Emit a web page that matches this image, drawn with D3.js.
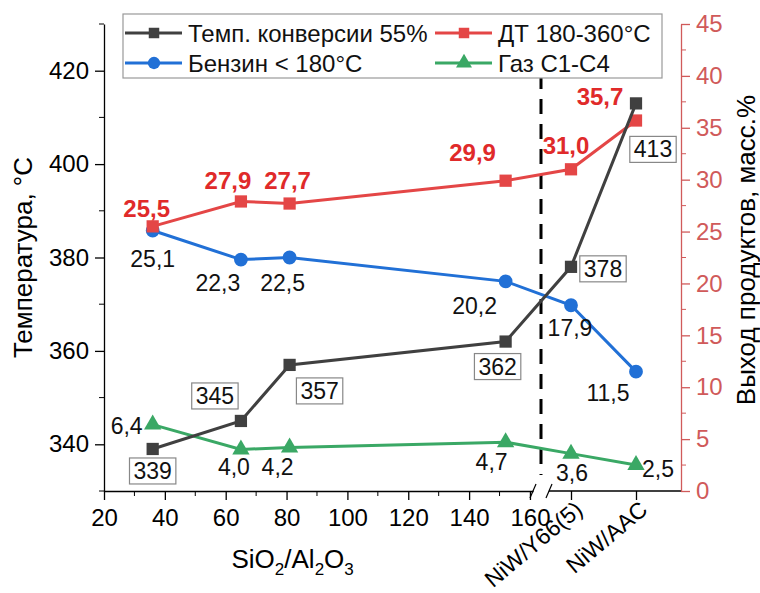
<!DOCTYPE html>
<html>
<head>
<meta charset="utf-8">
<script src="https://cdn.jsdelivr.net/npm/d3@7/dist/d3.min.js"></script>
<style>
  body { margin: 0; background: #fff; }
  svg { font-family: "Liberation Sans", Arial, sans-serif; }
</style>
</head>
<body>
<div id="chart"></div>
<script>
// numeric part of x (SiO2/Al2O3) then two catalysts after the break
const ratios = [36, 65, 81, 152];
const catalysts = ["NiW/Y66(5)", "NiW/AAC"];

const tempConv = [339, 345, 357, 362, 378, 413];   // left axis, °C
const gasoline = [25.1, 22.3, 22.5, 20.2, 17.9, 11.5]; // right axis
const diesel = [25.5, 27.9, 27.7, 29.9, 31.0, 35.7];
const gas = [6.4, 4.0, 4.2, 4.7, 3.6, 2.5];

const xTicks = [20, 40, 60, 80, 100, 120, 140, 160];
const yLeftTicks = [340, 360, 380, 400, 420];
const yRightTicks = [0, 5, 10, 15, 20, 25, 30, 35, 40, 45];

// label offsets from the point (text centre)
const tempOff = [[0, 22], [-26, -25], [30, 26], [-8, 25], [32, 2], [17, 46]];
const gasolineOff = [[0, 28], [-23, 23], [-7, 25], [-31, 25], [-1, 23], [-28, 21]];
const dieselOff = [[-6, -18], [-13, -21], [-2, -23], [-33, -28], [-5, -24], [-36, -24]];
const gasOff = [[-26, 1], [-7, 18], [-12, 20], [-14, 20], [1, 19], [22, 4]];

const width = 760, height = 593;
const mLeft = 104, mRight = 681, mTop = 24, mBottom = 491;
const breakL = 533, breakR = 549;

const black = "#404040", blue = "#2170d6", red = "#e44646", green = "#3aa865";
const axisRed = "#d05a5a";
const fmt = v => v.toFixed(1).replace(".", ",");

const svg = d3.select("#chart").append("svg")
  .attr("width", width).attr("height", height);

const xNum = d3.scaleLinear().domain([20, 161]).range([mLeft, breakL]);
const xCat = d3.scalePoint().domain(catalysts).range([571, 636]);
const yL = d3.scaleLinear().domain([330, 430]).range([mBottom, mTop]);
const yR = d3.scaleLinear().domain([0, 45]).range([mBottom, mTop]);

const xPos = i => i < ratios.length ? xNum(ratios[i]) : xCat(catalysts[i - ratios.length]);

// ---- axes
let gxNum = svg.append("g")
  .attr("transform", "translate(0," + mBottom + ")")
  .call(d3.axisBottom(xNum).tickValues(xTicks).tickSize(9).tickSizeOuter(0).tickPadding(9));
gxNum.append("g").selectAll("line")
  .data(d3.range(30, 160, 20)).enter().append("line")
  .attr("x1", d => xNum(d)).attr("x2", d => xNum(d))
  .attr("y1", 0).attr("y2", 5).attr("stroke", "#000");

let gxCat = svg.append("g")
  .attr("transform", "translate(0," + mBottom + ")")
  .call(d3.axisBottom(xCat).tickSize(9).tickSizeOuter(0).tickFormat(""));
gxCat.select(".domain").remove();
gxCat.append("line").attr("x1", breakR).attr("x2", mRight).attr("stroke", "#000").attr("stroke-width", 1.3);
gxCat.selectAll(".catLabel")
  .data(catalysts).enter().append("text")
  .attr("class", "catLabel")
  .attr("transform", d => "translate(" + (xCat(d) + 13) + ",21) rotate(-40)")
  .attr("text-anchor", "end")
  .attr("fill", "#000")
  .style("font-size", "23px")
  .text(d => d);

// break marks
svg.selectAll(".brk").data([breakL, breakR]).enter().append("line")
  .attr("x1", d => d - 3).attr("x2", d => d + 3)
  .attr("y1", mBottom + 7).attr("y2", mBottom - 7)
  .attr("stroke", "#000").attr("stroke-width", 1.2);

let gyL = svg.append("g")
  .attr("transform", "translate(" + mLeft + ",0)")
  .call(d3.axisLeft(yL).tickValues(yLeftTicks).tickSize(9).tickSizeOuter(0).tickPadding(6));
gyL.append("g").selectAll("line")
  .data(d3.range(330, 431, 20)).enter().append("line")
  .attr("x1", 0).attr("x2", -5)
  .attr("y1", d => yL(d)).attr("y2", d => yL(d)).attr("stroke", "#000");

let gyR = svg.append("g")
  .attr("transform", "translate(" + mRight + ",0)")
  .call(d3.axisRight(yR).tickValues(yRightTicks).tickSize(9).tickSizeOuter(0).tickPadding(6));
gyR.append("g").selectAll("line")
  .data(d3.range(2.5, 45, 5)).enter().append("line")
  .attr("x1", 0).attr("x2", 5)
  .attr("y1", d => yR(d)).attr("y2", d => yR(d)).attr("stroke", axisRed);
gyR.selectAll(".domain, .tick line").attr("stroke", axisRed).attr("stroke-width", 1.3);
gyR.selectAll(".tick text").attr("fill", axisRed);

svg.selectAll(".tick text").style("font-size", "24px");
gxNum.select(".domain").attr("stroke-width", 1.3);
gyL.select(".domain").attr("stroke-width", 1.3);
gxNum.selectAll(".tick line").attr("stroke-width", 1.3);
gyL.selectAll(".tick line").attr("stroke-width", 1.3);
gxCat.selectAll(".tick line").attr("stroke-width", 1.3);

// axis titles
svg.append("text")
  .attr("transform", "translate(32," + ((mTop + mBottom) / 2) + ") rotate(-90)")
  .attr("text-anchor", "middle")
  .style("font-size", "26px")
  .text("Температура, °C");

svg.append("text")
  .attr("transform", "translate(755,250) rotate(-90)")
  .attr("text-anchor", "middle")
  .style("font-size", "26px")
  .text("Выход продуктов, масс.%");

let xt = svg.append("text")
  .attr("x", xNum(82)).attr("y", 568)
  .attr("text-anchor", "middle")
  .style("font-size", "26px");
xt.append("tspan").text("SiO");
xt.append("tspan").attr("dy", 7).style("font-size", "17px").text("2");
xt.append("tspan").attr("dy", -7).text("/Al");
xt.append("tspan").attr("dy", 7).style("font-size", "17px").text("2");
xt.append("tspan").attr("dy", -7).text("O");
xt.append("tspan").attr("dy", 7).style("font-size", "17px").text("3");

// dashed separator
svg.append("line")
  .attr("x1", (breakL + breakR) / 2).attr("x2", (breakL + breakR) / 2)
  .attr("y1", mTop).attr("y2", mBottom - 16)
  .attr("stroke", "#000").attr("stroke-width", 3)
  .attr("stroke-dasharray", "15,10");

// ---- series
const series = [
  { key: "gasoline", vals: gasoline, y: yR, color: blue, shape: d3.symbolCircle, size: 150 },
  { key: "diesel", vals: diesel, y: yR, color: red, shape: d3.symbolSquare, size: 150 },
  { key: "gas", vals: gas, y: yR, color: green, shape: d3.symbolTriangle, size: 130 },
  { key: "temp", vals: tempConv, y: yL, color: black, shape: d3.symbolSquare, size: 150 }
];

series.forEach(s => {
  let line = d3.line().x((d, i) => xPos(i)).y(d => s.y(d));
  svg.append("path")
    .datum(s.vals)
    .attr("d", line)
    .attr("fill", "none")
    .attr("stroke", s.color)
    .attr("stroke-width", 3);
  svg.selectAll("." + s.key + "_pt")
    .data(s.vals).enter().append("path")
    .attr("class", s.key + "_pt")
    .attr("transform", (d, i) => "translate(" + xPos(i) + "," + s.y(d) + ")")
    .attr("d", d3.symbol().type(s.shape).size(s.size))
    .attr("fill", s.color);
});

// ---- value labels
function labels(vals, y, off, cls, style) {
  return svg.selectAll("." + cls)
    .data(vals).enter().append("text")
    .attr("class", cls)
    .attr("x", (d, i) => xPos(i) + off[i][0])
    .attr("y", (d, i) => y(d) + off[i][1])
    .attr("text-anchor", "middle")
    .attr("dominant-baseline", "central")
    .attr("fill", style.color)
    .style("font-size", style.size)
    .style("font-weight", style.weight)
    .text(style.fmt);
}

labels(gasoline, yR, gasolineOff, "lblGasoline", { color: "#111", size: "23px", weight: "normal", fmt: fmt });
labels(gas, yR, gasOff, "lblGas", { color: "#111", size: "23px", weight: "normal", fmt: fmt });
labels(diesel, yR, dieselOff, "lblDiesel", { color: "#e02a2a", size: "24px", weight: "bold", fmt: fmt });

let tl = labels(tempConv, yL, tempOff, "lblTemp", { color: "#111", size: "23px", weight: "normal", fmt: d => d });
tl.each(function () {
  let b = this.getBBox();
  let node = this;
  d3.select(this.parentNode).insert("rect", () => node)
    .attr("x", b.x - 4).attr("y", b.y)
    .attr("width", b.width + 8).attr("height", b.height)
    .attr("fill", "#fff").attr("stroke", "#888").attr("stroke-width", 1.2);
});

// ---- legend
const legendItems = [
  { label: "Темп. конверсии 55%", color: black, shape: d3.symbolSquare, size: 110, col: 0, row: 0 },
  { label: "ДТ 180-360°C", color: red, shape: d3.symbolSquare, size: 110, col: 1, row: 0 },
  { label: "Бензин < 180°C", color: blue, shape: d3.symbolCircle, size: 120, col: 0, row: 1 },
  { label: "Газ C1-C4", color: green, shape: d3.symbolTriangle, size: 110, col: 1, row: 1 }
];

let lg = svg.append("g").attr("transform", "translate(123,14)");
lg.append("rect")
  .attr("width", 539).attr("height", 64)
  .attr("fill", "#fff").attr("stroke", "#999").attr("stroke-width", 1.2);

let li = lg.selectAll(".lgItem")
  .data(legendItems).enter().append("g")
  .attr("class", "lgItem")
  .attr("transform", d => "translate(" + (d.col ? 312 : 2) + "," + (d.row ? 49 : 19) + ")");
li.append("line")
  .attr("x1", 0).attr("x2", 57)
  .attr("stroke", d => d.color).attr("stroke-width", 3);
li.append("path")
  .attr("transform", "translate(29,0)")
  .attr("d", d => d3.symbol().type(d.shape).size(d.size)())
  .attr("fill", d => d.color);
li.append("text")
  .attr("x", 63)
  .attr("dominant-baseline", "central")
  .style("font-size", "24px")
  .attr("fill", "#111")
  .text(d => d.label);
</script>
</body>
</html>
